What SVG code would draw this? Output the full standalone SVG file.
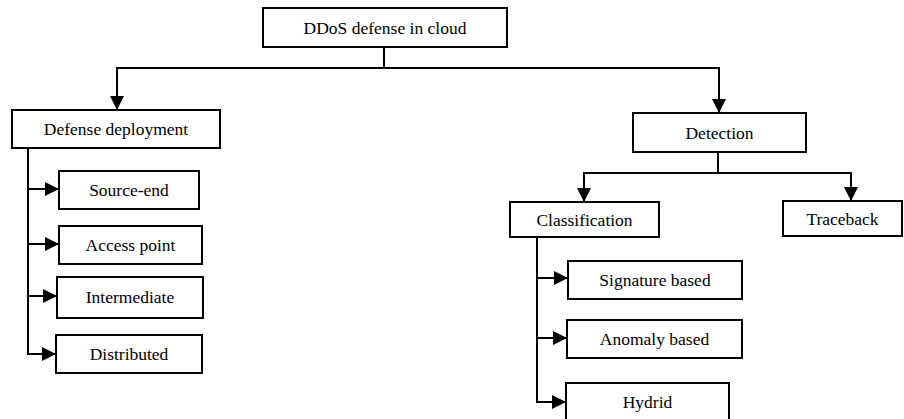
<svg xmlns="http://www.w3.org/2000/svg" width="904" height="419" viewBox="0 0 904 419">
  <style>
    .box { fill: #ffffff; stroke: #000000; stroke-width: 2; }
    .label { font-family: "Liberation Serif", "Times New Roman", serif; font-size: 17.5px; fill: #000000; text-anchor: middle; }
    .wire { fill: none; stroke: #000000; stroke-width: 2; }
    .arrow { marker-end: url(#head); }
  </style>
  <defs>
    <!-- solid triangular arrowhead, tip at the path end -->
    <marker id="head" markerUnits="userSpaceOnUse" markerWidth="15" markerHeight="15" refX="14" refY="7" orient="auto">
      <path d="M0,0 L14,7 L0,14 Z" fill="#000000"/>
    </marker>
  </defs>
  <rect width="904" height="419" fill="#ffffff"/>

  <g id="connectors">
    <path class="wire" d="M384,47 V68"/>
    <path class="wire arrow" d="M384,68 H117 V110"/>
    <path class="wire arrow" d="M384,68 H719 V113"/>
    <path class="wire arrow" d="M28,148 V189 H59"/>
    <path class="wire arrow" d="M28,148 V244 H59"/>
    <path class="wire arrow" d="M28,148 V296 H57"/>
    <path class="wire arrow" d="M28,148 V354 H56"/>
    <path class="wire" d="M718,152 V173"/>
    <path class="wire arrow" d="M718,173 H584 V202"/>
    <path class="wire arrow" d="M718,173 H851 V201"/>
    <path class="wire arrow" d="M537,237 V278 H568"/>
    <path class="wire arrow" d="M537,237 V338 H567"/>
    <path class="wire arrow" d="M537,237 V402 H566"/>
  </g>

  <g id="root">
    <rect class="box" x="263" y="8" width="244" height="39"/>
    <text class="label" x="385" y="34">DDoS defense in cloud</text>
  </g>
  <g id="defense-deployment">
    <rect class="box" x="12" y="110" width="208" height="38"/>
    <text class="label" x="116" y="135">Defense deployment</text>
  </g>
  <g id="source-end">
    <rect class="box" x="59" y="171" width="140" height="38"/>
    <text class="label" x="129" y="196">Source-end</text>
  </g>
  <g id="access-point">
    <rect class="box" x="59" y="226" width="143" height="38"/>
    <text class="label" x="130.5" y="251">Access point</text>
  </g>
  <g id="intermediate">
    <rect class="box" x="57" y="277" width="146" height="41"/>
    <text class="label" x="130" y="303">Intermediate</text>
  </g>
  <g id="distributed">
    <rect class="box" x="56" y="335" width="146" height="38"/>
    <text class="label" x="129" y="360">Distributed</text>
  </g>
  <g id="detection">
    <rect class="box" x="633" y="113" width="173" height="39"/>
    <text class="label" x="719.5" y="139">Detection</text>
  </g>
  <g id="classification">
    <rect class="box" x="510" y="202" width="149" height="35"/>
    <text class="label" x="584.5" y="226">Classification</text>
  </g>
  <g id="traceback">
    <rect class="box" x="783" y="201" width="119" height="35"/>
    <text class="label" x="842.5" y="225">Traceback</text>
  </g>
  <g id="signature-based">
    <rect class="box" x="568" y="261" width="174" height="38"/>
    <text class="label" x="655" y="286">Signature based</text>
  </g>
  <g id="anomaly-based">
    <rect class="box" x="567" y="320" width="175" height="38"/>
    <text class="label" x="654.5" y="345">Anomaly based</text>
  </g>
  <g id="hydrid">
    <rect class="box" x="566" y="383" width="163" height="44"/>
    <text class="label" x="647.5" y="408">Hydrid</text>
  </g>
</svg>
